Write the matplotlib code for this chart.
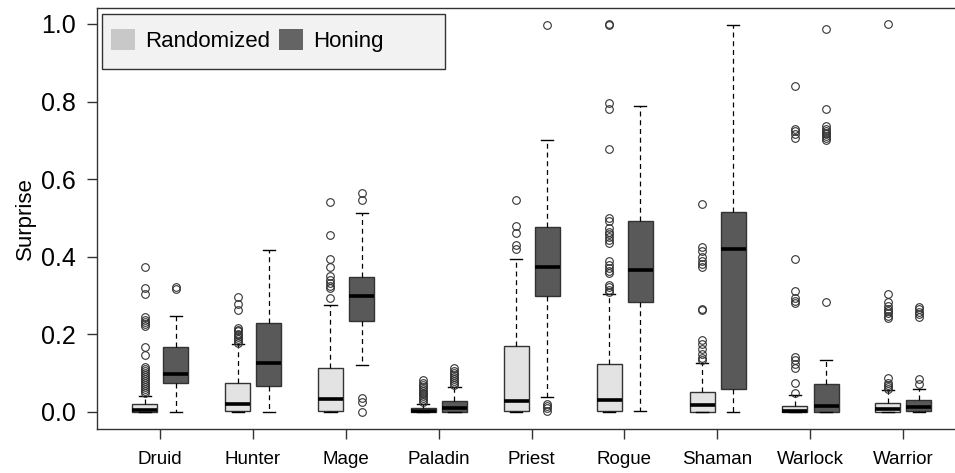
import matplotlib
matplotlib.use('Agg')
import matplotlib.pyplot as plt
from matplotlib.patches import Patch, Rectangle

plt.rcParams['font.family'] = ['Liberation Sans', 'DejaVu Sans']

classes = ['Druid', 'Hunter', 'Mage', 'Paladin', 'Priest', 'Rogue', 'Shaman', 'Warlock', 'Warrior']
series = ['Randomized', 'Honing']

# Randomized box stats
rand_lo = [0.0, 0.0, 0.0, 0.0, 0.0, 0.0, 0.0, 0.0, 0.0]
rand_q1 = [0.0, 0.003, 0.003, 0.0, 0.003, 0.003, 0.0, 0.0, 0.0]
rand_med = [0.005, 0.02, 0.034, 0.003, 0.027, 0.03, 0.018, 0.003, 0.008]
rand_q3 = [0.02, 0.075, 0.113, 0.01, 0.17, 0.123, 0.051, 0.015, 0.023]
rand_hi = [0.041, 0.175, 0.275, 0.02, 0.394, 0.303, 0.126, 0.044, 0.057]
rand_out = [
    [0.049, 0.055, 0.06, 0.065, 0.07, 0.075, 0.08, 0.085, 0.09, 0.095, 0.10, 0.105, 0.11, 0.116,
     0.147, 0.167, 0.221, 0.226, 0.232, 0.238, 0.244, 0.303, 0.319, 0.373],
    [0.177, 0.182, 0.187, 0.192, 0.197, 0.202, 0.208, 0.212, 0.216, 0.262, 0.278, 0.295],
    [0.294, 0.32, 0.325, 0.332, 0.34, 0.35, 0.373, 0.395, 0.455, 0.542],
    [0.025, 0.03, 0.035, 0.04, 0.045, 0.05, 0.055, 0.06, 0.065, 0.07, 0.075, 0.082],
    [0.42, 0.43, 0.46, 0.478, 0.547],
    [0.308, 0.315, 0.322, 0.327, 0.357, 0.363, 0.37, 0.378, 0.39, 0.435, 0.442, 0.45, 0.458,
     0.465, 0.473, 0.493, 0.50, 0.678, 0.781, 0.797, 0.998, 1.0],
    [0.134, 0.14, 0.15, 0.162, 0.175, 0.185, 0.262, 0.265, 0.373, 0.38, 0.39, 0.40, 0.415,
     0.425, 0.535],
    [0.049, 0.075, 0.113, 0.123, 0.133, 0.142, 0.28, 0.285, 0.293, 0.311, 0.395, 0.705,
     0.715, 0.725, 0.73, 0.84],
    [0.06, 0.065, 0.07, 0.075, 0.087, 0.242, 0.248, 0.254, 0.26, 0.266, 0.272, 0.283, 0.303, 1.0],
]

# Honing box stats
hon_lo = [0.0, 0.0, 0.12, 0.0, 0.038, 0.003, 0.0, 0.0, 0.0]
hon_q1 = [0.075, 0.068, 0.235, 0.0, 0.298, 0.283, 0.059, 0.0, 0.002]
hon_med = [0.098, 0.127, 0.30, 0.01, 0.374, 0.365, 0.419, 0.015, 0.012]
hon_q3 = [0.167, 0.229, 0.347, 0.027, 0.476, 0.493, 0.514, 0.072, 0.031]
hon_hi = [0.247, 0.417, 0.512, 0.065, 0.70, 0.789, 0.998, 0.134, 0.059]
hon_out = [
    [0.318, 0.322],
    [],
    [0.0, 0.026, 0.036, 0.545, 0.563],
    [0.07, 0.075, 0.08, 0.085, 0.09, 0.095, 0.10, 0.105, 0.113],
    [0.003, 0.01, 0.015, 0.02, 0.998],
    [],
    [],
    [0.283, 0.70, 0.705, 0.71, 0.715, 0.72, 0.725, 0.73, 0.738, 0.78, 0.987],
    [0.073, 0.085, 0.245, 0.252, 0.258, 0.264, 0.27],
]

rand_stats = [dict(whislo=a, q1=b, med=c, q3=d, whishi=e, fliers=f)
              for a, b, c, d, e, f in zip(rand_lo, rand_q1, rand_med, rand_q3, rand_hi, rand_out)]
hon_stats = [dict(whislo=a, q1=b, med=c, q3=d, whishi=e, fliers=f)
             for a, b, c, d, e, f in zip(hon_lo, hon_q1, hon_med, hon_q3, hon_hi, hon_out)]

rand_color = '#e3e3e3'
hon_color = '#595959'
edge = '#333333'

fig = plt.figure(figsize=(9.55, 4.73), dpi=100)
ax = fig.add_axes([0.1016, 0.093, 0.8984, 0.8901])

common = dict(
    widths=0.27,
    patch_artist=True,
    capwidths=0.13,
    medianprops=dict(color='black', linewidth=2.6, solid_capstyle='butt'),
    whiskerprops=dict(color='black', linewidth=0.9, linestyle=(0, (4, 3))),
    capprops=dict(color='black', linewidth=1.0),
)
pos = list(range(len(classes)))

for stats, offset, color in [(rand_stats, -0.165, rand_color), (hon_stats, 0.17, hon_color)]:
    ax.bxp(stats,
           positions=[p + offset for p in pos],
           boxprops=dict(facecolor=color, edgecolor=edge, linewidth=1.0),
           flierprops=dict(marker='o', markerfacecolor='none', markeredgecolor='#333333',
                           markersize=5.5, markeredgewidth=0.8),
           manage_ticks=False,
           **common)

ax.set_xlim(-0.678, 8.558)
ax.set_ylim(-0.044, 1.041)
ax.set_xticks(pos)
ax.set_xticklabels(classes, fontsize=13.5)
ax.set_yticks([0.0, 0.2, 0.4, 0.6, 0.8, 1.0])
ax.set_yticklabels(['0.0', '0.2', '0.4', '0.6', '0.8', '1.0'], fontsize=18)
ax.tick_params(axis='both', direction='out', length=7, width=1, color='#333333')
ax.tick_params(axis='y', pad=8)
ax.tick_params(axis='x', pad=9)
ax.set_ylabel('Surprise', fontsize=16, labelpad=4)

for side in ['left', 'top', 'bottom']:
    ax.spines[side].set_color('#333333')
    ax.spines[side].set_linewidth(1.0)
ax.spines['right'].set_visible(False)

# legend frame, R style
ax.add_patch(Rectangle((0.0058, 0.855), 0.4, 0.1306, transform=ax.transAxes,
                       facecolor='#f2f2f2', edgecolor='#333333', linewidth=1.0, zorder=3))
handles = [Patch(facecolor='#c8c8c8', edgecolor='none'),
           Patch(facecolor='#646464', edgecolor='none')]
ax.legend(handles, series, loc='center left', bbox_to_anchor=(0.0163, 0.923),
          ncol=2, frameon=False, fontsize=16, borderpad=0, borderaxespad=0,
          handlelength=1.08, handleheight=1.08, handletextpad=0.45, columnspacing=0.4)

fig.savefig('out.png', dpi=100)
